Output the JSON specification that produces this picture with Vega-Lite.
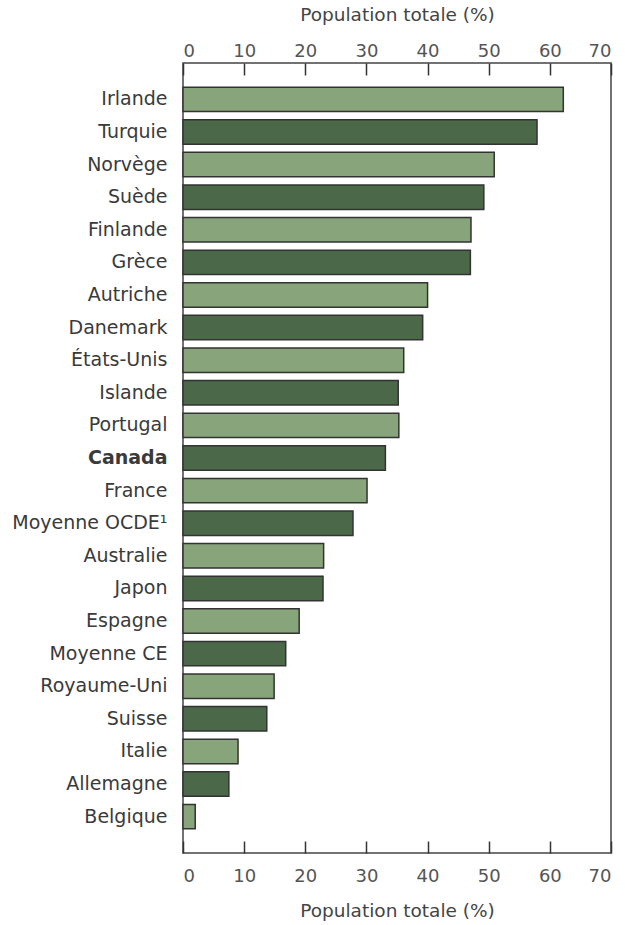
{
  "$schema": "https://vega.github.io/schema/vega-lite/v6.json",
  "autosize": "none",
  "width": 428,
  "height": 790,
  "padding": {"left": 183, "top": 63, "right": 14, "bottom": 72},
  "background": "white",
  "config": {
    "view": {"stroke": "#444", "strokeWidth": 1.5},
    "font": "DejaVu Sans"
  },
  "data": {
    "values": [
      {"pays": "Irlande", "valeur": 62.2},
      {"pays": "Turquie", "valeur": 57.9},
      {"pays": "Norvège", "valeur": 50.9},
      {"pays": "Suède", "valeur": 49.2},
      {"pays": "Finlande", "valeur": 47.1},
      {"pays": "Grèce", "valeur": 47.0},
      {"pays": "Autriche", "valeur": 40.0},
      {"pays": "Danemark", "valeur": 39.2},
      {"pays": "États-Unis", "valeur": 36.1},
      {"pays": "Islande", "valeur": 35.2},
      {"pays": "Portugal", "valeur": 35.3},
      {"pays": "Canada", "valeur": 33.1},
      {"pays": "France", "valeur": 30.1},
      {"pays": "Moyenne OCDE¹", "valeur": 27.8},
      {"pays": "Australie", "valeur": 23.0},
      {"pays": "Japon", "valeur": 22.9},
      {"pays": "Espagne", "valeur": 19.0},
      {"pays": "Moyenne CE", "valeur": 16.8},
      {"pays": "Royaume-Uni", "valeur": 14.9},
      {"pays": "Suisse", "valeur": 13.7},
      {"pays": "Italie", "valeur": 9.0},
      {"pays": "Allemagne", "valeur": 7.5},
      {"pays": "Belgique", "valeur": 2.0}
    ]
  },
  "transform": [{"window": [{"op": "row_number", "as": "rang"}]}],
  "layer": [
    {
      "mark": {"type": "bar", "stroke": "#333", "strokeWidth": 1.5},
      "encoding": {
        "y": {
          "field": "pays", "type": "nominal", "sort": null,
          "scale": {"paddingInner": 0.25, "paddingOuter": 0.74},
          "axis": {
            "title": null, "domain": false, "ticks": false,
            "labelFontSize": 19, "labelColor": "#3a3a3a", "labelPadding": 16,
            "labelFontWeight": {"condition": {"test": "datum.value === 'Canada'", "value": "bold"}, "value": "normal"}
          }
        },
        "x": {
          "field": "valeur", "type": "quantitative",
          "scale": {"domain": [0, 70], "nice": false},
          "axis": {
            "orient": "bottom", "title": "Population totale (%)", "values": [0,10,20,30,40,50,60,70],
            "grid": false, "domain": false, "ticks": true, "zindex": 2, "offset": -12, "tickSize": 12, "tickColor": "#333", "tickWidth": 1.5, "tickOpacity": 1,
            "labelFontSize": 18, "labelColor": "#555", "labelPadding": 14,
            "titleFontSize": 18.5, "titleFontWeight": "normal", "titleColor": "#444", "titlePadding": 16
          }
        },
        "color": {
          "condition": {"test": "datum.rang % 2 === 1", "value": "#88a47a"},
          "value": "#4b6848"
        }
      }
    },
    {
      "mark": {"type": "rule", "opacity": 0},
      "encoding": {
        "x": {
          "field": "valeur", "type": "quantitative",
          "axis": {
            "orient": "top", "title": "Population totale (%)", "values": [0,10,20,30,40,50,60,70],
            "grid": false, "domain": false, "ticks": true, "zindex": 2, "offset": -12, "tickSize": 12, "tickColor": "#333", "tickWidth": 1.5, "tickOpacity": 1,
            "labelFontSize": 18, "labelColor": "#555", "labelPadding": 3,
            "titleFontSize": 18.5, "titleFontWeight": "normal", "titleColor": "#444", "titlePadding": 18
          }
        }
      }
    }
  ],
  "resolve": {"axis": {"x": "independent"}}
}
